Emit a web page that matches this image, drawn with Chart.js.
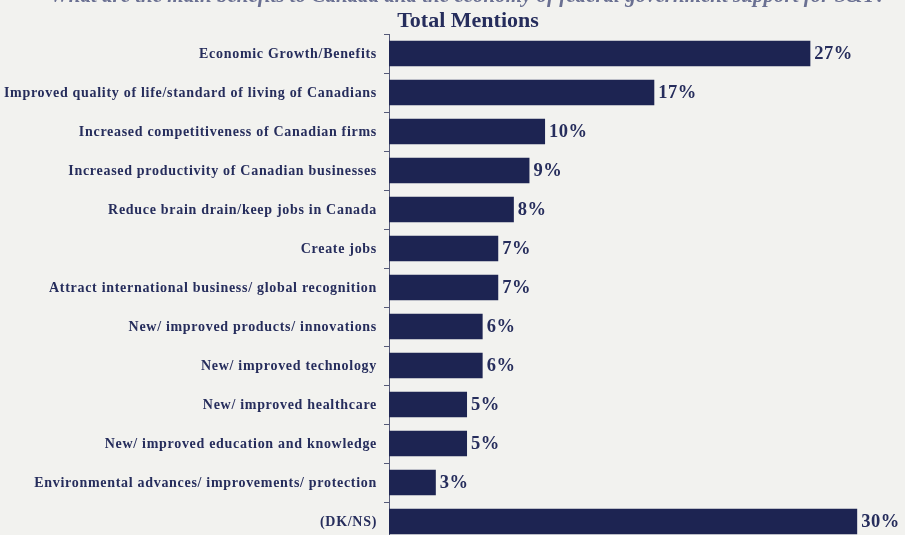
<!DOCTYPE html>
<html>
<head>
<meta charset="utf-8">
<script src="https://cdn.jsdelivr.net/npm/chart.js@4.4.1/dist/chart.umd.min.js"></script>
<style>
  html, body { margin: 0; padding: 0; background: #f2f2ef; overflow: hidden; }
  #wrap { width: 905px; height: 545px; position: relative; }
  #c { width: 905px; height: 545px; display: block; }
</style>
</head>
<body>
<div id="wrap"><canvas id="c" width="905" height="545"></canvas></div>
<script>
// Survey question and panel heading
const questionText = 'What are the main benefits to Canada and the economy of federal government support for S&T?';
const panelTitle = 'Total Mentions';

// Answer categories, top to bottom
const categories = [
  'Economic Growth/Benefits',
  'Improved quality of life/standard of living of Canadians',
  'Increased competitiveness of Canadian firms',
  'Increased productivity of Canadian businesses',
  'Reduce brain drain/keep jobs in Canada',
  'Create jobs',
  'Attract international business/ global recognition',
  'New/ improved products/ innovations',
  'New/ improved technology',
  'New/ improved healthcare',
  'New/ improved education and knowledge',
  'Environmental advances/ improvements/ protection',
  '(DK/NS)'
];

// Share of mentions, percent
const mentions = [27, 17, 10, 9, 8, 7, 7, 6, 6, 5, 5, 3, 30];

const NAVY = '#1d2452';
const TEXT = '#262d5c';
const SERIF = '"Liberation Serif", "DejaVu Serif", serif';

// Heading text above the plot
const headingPlugin = {
  id: 'heading',
  beforeDraw(chart) {
    const ctx = chart.ctx;
    ctx.save();
    ctx.fillStyle = '#f2f2ef';
    ctx.fillRect(0, 0, chart.width, chart.height);
    ctx.textAlign = 'center';
    ctx.textBaseline = 'alphabetic';
    ctx.fillStyle = '#6a7092';
    ctx.font = 'italic bold 21px ' + SERIF;
    ctx.fillText(questionText, 468, 2);
    ctx.fillStyle = TEXT;
    ctx.font = 'bold 22px ' + SERIF;
    ctx.fillText(panelTitle, 468, 27);
    ctx.restore();
  }
};

// Category names, drawn with a little letter spacing
const categoryLabels = {
  id: 'categoryLabels',
  afterDraw(chart) {
    const ctx = chart.ctx;
    const y = chart.scales.y;
    ctx.save();
    ctx.fillStyle = TEXT;
    ctx.font = 'bold 14px ' + SERIF;
    ctx.letterSpacing = '0.7px';
    ctx.textAlign = 'right';
    ctx.textBaseline = 'middle';
    chart.data.labels.forEach((lab, i) => {
      ctx.fillText(lab, 377, y.getPixelForValue(i) + 1);
    });
    ctx.restore();
  }
};

// Percentage labels at the end of each bar
const valueLabels = {
  id: 'valueLabels',
  afterDatasetsDraw(chart) {
    const ctx = chart.ctx;
    const meta = chart.getDatasetMeta(0);
    ctx.save();
    ctx.fillStyle = TEXT;
    ctx.font = 'bold 18.5px ' + SERIF;
    ctx.letterSpacing = '0.5px';
    ctx.textAlign = 'left';
    ctx.textBaseline = 'middle';
    meta.data.forEach((bar, i) => {
      ctx.fillText(chart.data.datasets[0].data[i] + '%', bar.x + 4, bar.y + 1);
    });
    ctx.restore();
  }
};

new Chart(document.getElementById('c'), {
  type: 'bar',
  data: {
    labels: categories,
    datasets: [{
      data: mentions,
      backgroundColor: NAVY,
      borderWidth: 0,
      categoryPercentage: 0.66,
      barPercentage: 1.0
    }]
  },
  options: {
    indexAxis: 'y',
    responsive: false,
    maintainAspectRatio: false,
    animation: false,
    // the last row runs a little past the lower edge of the page
    layout: { padding: { top: 34, bottom: 4, left: 0, right: 1 } },
    plugins: {
      legend: { display: false },
      tooltip: { enabled: false }
    },
    scales: {
      x: {
        display: false,
        min: 0,
        max: 33
      },
      y: {
        afterFit(scale) { scale.width = 389; },
        grid: {
          drawOnChartArea: false,
          drawTicks: true,
          tickLength: 5,
          color: '#555a78',
          offset: true
        },
        border: { display: true, color: '#555a78', width: 1 },
        ticks: {
          padding: 0,
          color: 'rgba(0,0,0,0)',
          font: { size: 1 }
        }
      }
    }
  },
  plugins: [headingPlugin, categoryLabels, valueLabels]
});
</script>
</body>
</html>
